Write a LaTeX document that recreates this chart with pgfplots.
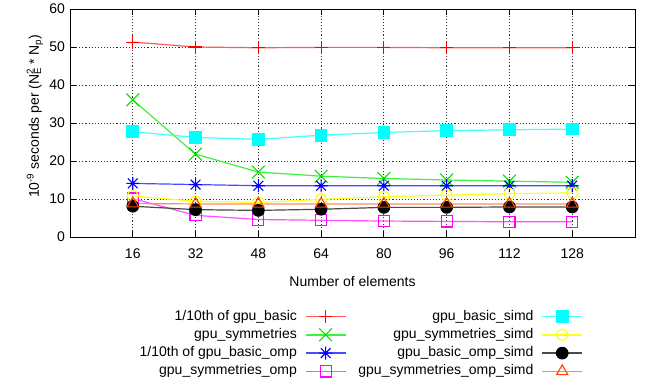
\documentclass[border=0pt]{standalone}
\usepackage{fontspec}
\setmainfont{Liberation Sans}
\usepackage{pgfplots}
\pgfplotsset{compat=1.18}
\usetikzlibrary{plotmarks}

\definecolor{redM}{HTML}{FF0000}
\definecolor{greenM}{HTML}{00E000}
\definecolor{blueM}{HTML}{0000FF}
\definecolor{magM}{HTML}{FF00FF}
\definecolor{cyanM}{HTML}{00FFFF}
\definecolor{yelM}{HTML}{FFFF00}
\definecolor{blkM}{HTML}{000000}
\definecolor{orM}{HTML}{FF4500}
\definecolor{redL}{HTML}{FF5A5A}
\definecolor{greenL}{HTML}{40F040}
\definecolor{blueL}{HTML}{4A4AFF}
\definecolor{magL}{HTML}{FF50FF}
\definecolor{cyanL}{HTML}{40FFFF}
\definecolor{yelL}{HTML}{FFFF20}
\definecolor{blkL}{HTML}{4A4A4A}
\definecolor{orL}{HTML}{FF8A60}

\pgfdeclareplotmark{gpstar}{%
  \pgfpathmoveto{\pgfqpoint{-\pgfplotmarksize}{0pt}}%
  \pgfpathlineto{\pgfqpoint{\pgfplotmarksize}{0pt}}%
  \pgfpathmoveto{\pgfqpoint{0pt}{-\pgfplotmarksize}}%
  \pgfpathlineto{\pgfqpoint{0pt}{\pgfplotmarksize}}%
  \pgfpathmoveto{\pgfqpoint{-.75\pgfplotmarksize}{-.75\pgfplotmarksize}}%
  \pgfpathlineto{\pgfqpoint{.75\pgfplotmarksize}{.75\pgfplotmarksize}}%
  \pgfpathmoveto{\pgfqpoint{-.75\pgfplotmarksize}{.75\pgfplotmarksize}}%
  \pgfpathlineto{\pgfqpoint{.75\pgfplotmarksize}{-.75\pgfplotmarksize}}%
  \pgfusepathqstroke}

\begin{document}
\begin{tikzpicture}[font=\fontsize{14bp}{16.8bp}\selectfont]
\begin{axis}[
  name=ax,
  scale only axis,
  width=565bp, height=228bp,
  xmin=0, xmax=144, ymin=0, ymax=60,
  xtick={16,32,48,64,80,96,112,128},
  ytick={0,10,20,30,40,50,60},
  /pgf/number format/assume math mode=true,
  tick align=inside,
  major tick length=6bp,
  tick style={black, line width=0.8bp},
  axis line style={black, line width=0.9bp},
  grid=major,
  major grid style={black!80, line width=0.8bp, dash pattern=on 1.1bp off 2bp},
  xticklabel style={yshift=-8.3bp},
  yticklabel style={xshift=-1.6bp},
  xlabel={Number of elements},
  xlabel style={at={(axis description cs:0.5,-0.219)}, anchor=base},
  ylabel={10\textsuperscript{-9} seconds per (N\rlap{\textsubscript{E}}\textsuperscript{2} * N\textsubscript{p})},
  ylabel style={at={(axis description cs:-0.055,0.53)}, anchor=base, rotate=0},
  every axis plot/.append style={line width=1.2bp},
  legend columns=4,
  transpose legend,
  legend plot pos=right,
  legend cell align=right,
  legend style={draw=none, fill=none, inner sep=0pt, outer sep=0pt,
    at={(axis description cs:0.908,-0.3086)}, anchor=north east,
    nodes={text height=10bp, text depth=3bp, inner sep=2.65bp},
    /tikz/every odd column/.append style={column sep=5.3bp},
    /tikz/every even column/.append style={column sep=9.3bp}},
  legend image code/.code={\draw[mark repeat=2,mark phase=2,line width=1.6bp,#1] plot coordinates {(0bp,0bp) (20bp,0bp) (40bp,0bp)};},
]
\addplot[color=redL, mark=+, mark size=6.5bp, mark options={draw=redM, line width=1.1bp, solid}] coordinates {
 (16,51.3) (32,50.0) (48,49.8) (64,49.9) (80,49.9) (96,49.8) (112,49.8) (128,49.8)};
\addlegendentry{1/10th of gpu\_basic}
\addplot[color=greenL, mark=x, mark size=9bp, mark options={draw=greenM, line width=1.1bp, solid}] coordinates {
 (16,36.1) (32,21.8) (48,17.1) (64,16.0) (80,15.4) (96,15.0) (112,14.7) (128,14.4)};
\addlegendentry{gpu\_symmetries}
\addplot[color=blueL, mark=gpstar, mark size=6.5bp, mark options={draw=blueM, line width=1.1bp, solid}] coordinates {
 (16,14.1) (32,13.8) (48,13.5) (64,13.5) (80,13.5) (96,13.5) (112,13.5) (128,13.5)};
\addlegendentry{1/10th of gpu\_basic\_omp}
\addplot[color=magL, mark=square, mark size=5.6bp, mark options={draw=magM, line width=1.1bp, solid}] coordinates {
 (16,10.1) (32,5.7) (48,4.6) (64,4.4) (80,4.2) (96,4.1) (112,4.0) (128,4.0)};
\addlegendentry{gpu\_symmetries\_omp}
\addplot[color=cyanL, mark=square*, mark size=5.8bp, mark options={draw=cyanM, fill=cyanM, line width=1.1bp, solid}] coordinates {
 (16,27.7) (32,26.2) (48,25.7) (64,26.8) (80,27.5) (96,28.0) (112,28.2) (128,28.4)};
\addlegendentry{gpu\_basic\_simd}
\addplot[color=yelL, mark=o, mark size=5.6bp, mark options={draw=yelM, line width=1.1bp, solid}] coordinates {
 (16,10.8) (32,9.4) (48,9.1) (64,9.9) (80,10.6) (96,11.0) (112,11.4) (128,11.6)};
\addlegendentry{gpu\_symmetries\_simd}
\addplot[color=blkL, mark=*, mark size=5.8bp, mark options={draw=blkM, fill=blkM, line width=1.1bp, solid}] coordinates {
 (16,8.1) (32,7.2) (48,7.0) (64,7.3) (80,7.8) (96,7.8) (112,7.9) (128,7.9)};
\addlegendentry{gpu\_basic\_omp\_simd}
\addplot[color=orL, mark=triangle, mark size=6.5bp, mark options={draw=orM, line width=1.1bp, solid}] coordinates {
 (16,8.8) (32,8.7) (48,8.7) (64,8.7) (80,8.7) (96,8.7) (112,8.7) (128,8.7)};
\addlegendentry{gpu\_symmetries\_omp\_simd}
\end{axis}
\pgfresetboundingbox
\path (ax.south west) ++(-70bp,-144bp) rectangle ++(647bp,381bp);
\end{tikzpicture}
\end{document}
